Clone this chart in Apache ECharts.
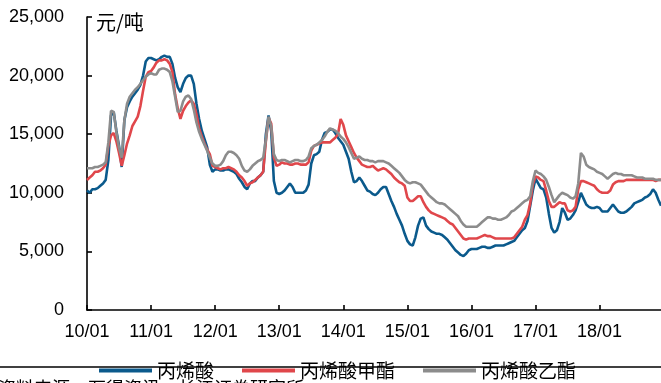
<!DOCTYPE html>
<html><head><meta charset="utf-8">
<script src="https://cdn.jsdelivr.net/npm/echarts@6/dist/echarts.min.js"></script>
<style>html,body{margin:0;padding:0;background:#fff}#c{width:661px;height:383px}</style>
</head><body><div id="c"></div>
<script>
// half-monthly dates
const dates = [
'2010-01-01','2010-01-16','2010-02-01','2010-02-16','2010-03-01','2010-03-16','2010-04-01','2010-04-16','2010-05-01','2010-05-16','2010-06-01','2010-06-16','2010-07-01','2010-07-16','2010-08-01','2010-08-16','2010-09-01','2010-09-16','2010-10-01','2010-10-16','2010-11-01','2010-11-16','2010-12-01','2010-12-16',
'2011-01-01','2011-01-16','2011-02-01','2011-02-16','2011-03-01','2011-03-16','2011-04-01','2011-04-16','2011-05-01','2011-05-16','2011-06-01','2011-06-16','2011-07-01','2011-07-16','2011-08-01','2011-08-16','2011-09-01','2011-09-16','2011-10-01','2011-10-16','2011-11-01','2011-11-16','2011-12-01','2011-12-16',
'2012-01-01','2012-01-16','2012-02-01','2012-02-16','2012-03-01','2012-03-16','2012-04-01','2012-04-16','2012-05-01','2012-05-16','2012-06-01','2012-06-16','2012-07-01','2012-07-16','2012-08-01','2012-08-16','2012-09-01','2012-09-16','2012-10-01','2012-10-16','2012-11-01','2012-11-16','2012-12-01','2012-12-16',
'2013-01-01','2013-01-16','2013-02-01','2013-02-16','2013-03-01','2013-03-16','2013-04-01','2013-04-16','2013-05-01','2013-05-16','2013-06-01','2013-06-16','2013-07-01','2013-07-16','2013-08-01','2013-08-16','2013-09-01','2013-09-16','2013-10-01','2013-10-16','2013-11-01','2013-11-16','2013-12-01','2013-12-16',
'2014-01-01','2014-01-16','2014-02-01','2014-02-16','2014-03-01','2014-03-16','2014-04-01','2014-04-16','2014-05-01','2014-05-16','2014-06-01','2014-06-16','2014-07-01','2014-07-16','2014-08-01','2014-08-16','2014-09-01','2014-09-16','2014-10-01','2014-10-16','2014-11-01','2014-11-16','2014-12-01','2014-12-16',
'2015-01-01','2015-01-16','2015-02-01','2015-02-16','2015-03-01','2015-03-16','2015-04-01','2015-04-16','2015-05-01','2015-05-16','2015-06-01','2015-06-16','2015-07-01','2015-07-16','2015-08-01','2015-08-16','2015-09-01','2015-09-16','2015-10-01','2015-10-16','2015-11-01','2015-11-16','2015-12-01','2015-12-16',
'2016-01-01','2016-01-16','2016-02-01','2016-02-16','2016-03-01','2016-03-16','2016-04-01','2016-04-16','2016-05-01','2016-05-16','2016-06-01','2016-06-16','2016-07-01','2016-07-16','2016-08-01','2016-08-16','2016-09-01','2016-09-16','2016-10-01','2016-10-16','2016-11-01','2016-11-16','2016-12-01','2016-12-16',
'2017-01-01','2017-01-16','2017-02-01','2017-02-16','2017-03-01','2017-03-16','2017-04-01','2017-04-16','2017-05-01','2017-05-16','2017-06-01','2017-06-16','2017-07-01','2017-07-16','2017-08-01','2017-08-16','2017-09-01','2017-09-16','2017-10-01','2017-10-16','2017-11-01','2017-11-16','2017-12-01','2017-12-16',
'2018-01-01','2018-01-16','2018-02-01','2018-02-16','2018-03-01','2018-03-16','2018-04-01','2018-04-16','2018-05-01','2018-05-16','2018-06-01','2018-06-16','2018-07-01','2018-07-16','2018-08-01','2018-08-16','2018-09-01','2018-09-16','2018-10-01','2018-10-16','2018-11-01','2018-11-16','2018-12-01','2018-12-16'
];
const seriesNames = ['丙烯酸', '丙烯酸甲酯', '丙烯酸乙酯'];
const acrylicAcid = [
10200,10000,10300,10300,10400,10600,10800,11100,12800,16600,16900,15300,14000,12200,16200,17300,17800,18200,18500,18800,19200,20000,21200,21500,
21500,21400,21300,21400,21600,21700,21600,21600,21000,19800,19000,18600,19300,19800,20000,20000,19300,17600,16300,15300,14600,13900,12400,11800,
12000,12000,11900,11900,12000,12000,11900,11800,11600,11200,10900,10500,10300,10800,11000,11000,11300,11500,11800,15000,16600,15300,11000,10000,
9900,10000,10200,10500,10800,10500,10000,10000,10000,10000,10200,10700,12500,13200,13300,13500,14500,15100,15200,15400,15400,15100,14700,14400,
14100,13500,12900,11800,10900,11000,11300,11000,10600,10200,10100,9900,9800,10000,10300,10500,10500,9900,9300,8800,8200,7700,7200,6500,
5900,5600,5500,6200,7200,7800,7900,7200,6900,6700,6600,6500,6500,6400,6200,6000,5700,5400,5100,4900,4700,4600,4800,5100,
5200,5200,5200,5300,5400,5400,5300,5300,5400,5500,5500,5500,5500,5600,5700,5800,5900,6200,6500,6800,7000,7600,8900,10200,
11200,10800,10400,10300,9600,8200,7000,6600,6800,7500,8700,8300,7700,7800,8100,8500,9200,10000,9500,9000,8800,8700,8700,8800,
8700,8400,8400,8400,8700,9000,8700,8400,8300,8300,8400,8600,8800,9100,9200,9300,9400,9600,9700,9900,10300,10000,9400,8900
];
const methylAcrylate = [
11100,11300,11500,11800,11800,11900,12100,12400,14000,14900,15100,14400,13400,12300,13200,14200,14900,15700,16100,16500,17400,18700,19900,20300,
20400,20700,21100,21300,21300,21400,21300,21000,20300,18400,17200,16300,17000,17400,17700,17900,17600,16700,15500,14800,14200,13700,13300,12300,
12200,12100,12000,12100,12100,12200,12100,12000,11800,11500,11300,11000,10600,10800,10900,11100,11300,11500,11800,14400,16400,15900,13000,12300,
12400,12600,12500,12500,12400,12400,12500,12500,12400,12400,12400,12600,13600,14000,14100,14200,14300,14300,14300,14300,14500,14700,15000,16300,
15800,14900,14400,13900,13400,13000,12700,12400,12300,12200,12200,12300,12100,11900,12000,12100,12000,11800,11600,11300,11100,10900,10800,10600,
9600,9300,9300,9500,9700,9700,9200,8800,8500,8300,8200,8100,8000,7900,7800,7600,7400,7300,7000,6700,6400,6100,6000,6100,
6100,6100,6100,6200,6300,6400,6300,6300,6200,6100,6100,6100,6100,6100,6100,6100,6200,6500,6800,7100,7700,8100,9100,10700,
11400,11300,11100,11000,10200,9300,8800,8800,9000,9200,9100,9100,8500,8400,8500,8800,10300,11000,11000,10900,10800,10700,10600,10300,
10100,10000,10000,10000,10200,10700,10900,11000,11000,11000,11100,11100,11100,11100,11100,11100,11100,11100,11100,11100,11100,11000,11100,11100
];
const ethylAcrylate = [
12100,12100,12100,12200,12200,12300,12400,12600,14300,17000,16900,15200,13800,13000,16200,17600,18200,18500,18800,19000,19300,19600,19900,20100,
20200,20100,20100,20500,20600,20600,20500,20300,19500,18200,16900,17000,17800,18200,18300,18000,17100,16000,15200,14600,14100,13600,13000,12500,
12300,12300,12400,12700,13200,13500,13500,13400,13200,12900,12300,11900,11800,12000,12300,12500,12700,12800,13000,14500,16500,15700,13300,12800,
12700,12800,12800,12700,12600,12700,12800,12800,12700,12700,12800,13100,13800,14000,14100,14300,14500,14800,15200,15500,15400,15300,15100,14800,
14600,14300,13900,13400,12900,13000,13100,12900,12800,12800,12700,12700,12600,12700,12700,12700,12600,12500,12300,12100,11900,11700,11400,11100,
10900,10800,10900,10900,10800,10700,10400,10100,9800,9600,9400,9200,9100,9100,9000,8800,8600,8400,8200,8000,7600,7300,7100,7100,
7100,7100,7100,7300,7500,7700,7900,7900,7800,7800,7700,7700,7800,7900,8100,8400,8500,8700,8900,9100,9300,9400,9700,11000,
11900,11700,11600,11400,11100,10500,9800,9200,9500,9800,10000,9900,9800,9600,9500,9700,10800,13400,13100,12400,12200,12100,12000,11800,
11700,11600,11400,11200,11400,11600,11700,11600,11600,11500,11500,11500,11500,11400,11300,11300,11300,11200,11200,11200,11200,11100,11100,11100
];
const yTicks = [0, 5000, 10000, 15000, 20000, 25000];
const colors = ['#0b5a8c', '#e0474b', '#8c8c8c'];
const numFont = 'Arial, "Liberation Sans", sans-serif';
const cjkFont = '"Noto Sans CJK SC", sans-serif';

const chart = echarts.init(document.getElementById('c'), null, {renderer: 'canvas'});
const mk = (name, data, i) => ({
  name, type: 'line', data, showSymbol: false, symbol: 'none', smooth: false,
  lineStyle: {color: colors[i], width: 2.6}, itemStyle: {color: colors[i]}, z: 2 + i
});
chart.setOption({
  animation: false,
  backgroundColor: '#fff',
  grid: {left: 87, right: 0, top: 17, bottom: 73, containLabel: false},
  xAxis: {
    type: 'category', data: dates, boundaryGap: false,
    axisLine: {lineStyle: {color: '#000', width: 1.6}},
    axisTick: {inside: true, length: 5, lineStyle: {color: '#000', width: 1.6},
      interval: (i) => i % 24 === 0},
    axisLabel: {interval: (i) => i % 24 === 0, color: '#000', fontFamily: numFont, fontSize: 18, margin: 13,
      formatter: (v) => v.slice(2, 4) + '/' + v.slice(5, 7)},
    splitLine: {show: false}
  },
  yAxis: {
    type: 'value', min: yTicks[0], max: yTicks[yTicks.length - 1], interval: 5000,
    axisLine: {show: true, lineStyle: {color: '#000', width: 1.6}},
    axisTick: {show: true, inside: true, length: 5, lineStyle: {color: '#000', width: 1.6}},
    axisLabel: {color: '#000', fontFamily: numFont, fontSize: 18, margin: 23,
      formatter: (v) => v.toLocaleString('en-US')},
    splitLine: {show: false}
  },
  legend: {
    data: seriesNames, left: 99, top: 361, itemWidth: 53, itemHeight: 4, itemGap: 28,
    icon: 'rect', padding: 0,
    textStyle: {fontFamily: cjkFont, fontSize: 19, color: '#000', padding: [9, 0, 0, 0]}
  },
  graphic: [
    {type: 'text', left: 96, top: 12, style: {text: '元/吨', font: '20px ' + cjkFont, fill: '#000'}},
    {type: 'line', z: 100, shape: {x1: 0, y1: 367, x2: 661, y2: 367}, style: {stroke: '#000', lineWidth: 1.6}},
    {type: 'text', left: -2, top: 379, z: 100, style: {text: '资料来源：万得资讯，长江证券研究所', font: '18px ' + cjkFont, fill: '#000'}}
  ],
  series: [mk(seriesNames[0], acrylicAcid, 0), mk(seriesNames[1], methylAcrylate, 1), mk(seriesNames[2], ethylAcrylate, 2)]
});
</script></body></html>
